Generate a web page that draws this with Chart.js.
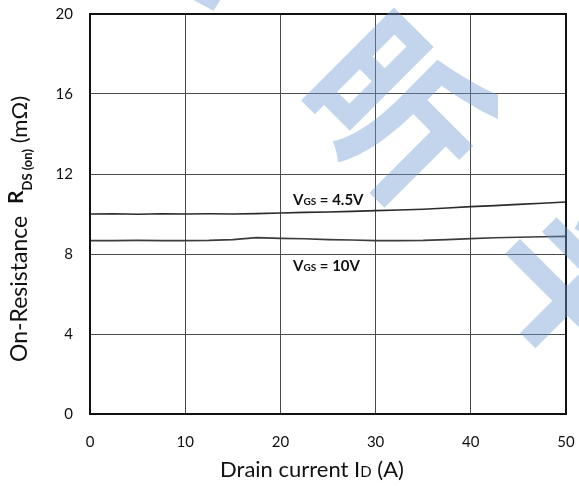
<!DOCTYPE html>
<html>
<head>
<meta charset="utf-8">
<script src="https://cdn.jsdelivr.net/npm/chart.js@4.4.1/dist/chart.umd.min.js"></script>
<style>
html, body { margin: 0; padding: 0; background: #fff; }
</style>
</head>
<body>
<canvas id="rdsChart" width="579" height="486"></canvas>
<script>
// Drain current (A)
const current = [0, 2.5, 5, 7.5, 10, 12.5, 15, 17.5, 20, 22.5, 25, 27.5, 30, 32.5, 35, 37.5, 40, 42.5, 45, 47.5, 50];
// RDS(on) in mOhm
const rdsVgs45 = [10.00, 10.01, 9.99, 10.01, 10.00, 10.01, 10.00, 10.02, 10.05, 10.08, 10.10, 10.13, 10.17, 10.20, 10.24, 10.30, 10.37, 10.42, 10.48, 10.54, 10.60];
const rdsVgs10 = [8.67, 8.67, 8.68, 8.67, 8.67, 8.68, 8.72, 8.82, 8.78, 8.76, 8.72, 8.70, 8.67, 8.67, 8.68, 8.72, 8.77, 8.81, 8.84, 8.86, 8.88];
const xTicks = [0, 10, 20, 30, 40, 50];
const yTicks = [0, 4, 8, 12, 16, 20];

const FONT = "Lato, 'Open Sans', sans-serif";

// text with sub/small parts: [text, size, bold, dy]
function richText(ctx, parts, x, y, align) {
    let w = 0;
    parts.forEach(p => {
        ctx.font = (p[2] ? "bold " : "") + p[1] + "px " + FONT;
        w += ctx.measureText(p[0]).width;
    });
    let cx = align === "center" ? x - w / 2 : x;
    ctx.textAlign = "left";
    ctx.textBaseline = "alphabetic";
    parts.forEach(p => {
        ctx.font = (p[2] ? "bold " : "") + p[1] + "px " + FONT;
        ctx.fillText(p[0], cx, y + (p[3] || 0));
        cx += ctx.measureText(p[0]).width;
    });
}

// watermark on top, semi transparent
const watermark = {
    id: "watermark",
    afterDraw(chart) {
        const ctx = chart.ctx;
        ctx.save();
        ctx.fillStyle = "rgba(110,155,210,0.42)";
        ctx.font = "bold 172px 'Noto Sans CJK SC'";
        ctx.textAlign = "center";
        ctx.textBaseline = "middle";
        [["芯", 195, -84], ["昕", 398, 108], ["半", 585, 284]].forEach(c => {
            ctx.save();
            ctx.translate(c[1], c[2]);
            ctx.rotate(Math.PI / 4);
            ctx.fillText(c[0], 0, 0);
            ctx.restore();
        });
        ctx.restore();
    }
};

const labels = {
    id: "labels",
    afterDatasetsDraw(chart) {
        const ctx = chart.ctx;
        const a = chart.chartArea;
        ctx.save();
        ctx.strokeStyle = "#111";
        ctx.lineWidth = 2;
        ctx.strokeRect(a.left, a.top, a.right - a.left, a.bottom - a.top);
        ctx.fillStyle = "#111";
        richText(ctx, [["V", 15, true], ["GS", 10, true], [" = 4.5V", 15, true]], 293, 205, "left");
        richText(ctx, [["V", 15, true], ["GS", 10, true], [" = 10V", 15, true]], 293, 271, "left");
        // x title
        richText(ctx, [["Drain current I", 22, false], ["D", 15, false], [" (A)", 22, false]], 312, 477, "center");
        // y title
        ctx.translate(27, 362);
        ctx.rotate(-Math.PI / 2);
        richText(ctx, [["On-Resistance  ", 23, false], ["R", 21, true, -4], ["DS (on)", 13, true, 5], [" (mΩ)", 22, false]], 0, 0, "left");
        ctx.restore();
    }
};

new Chart(document.getElementById("rdsChart"), {
    type: "line",
    data: {
        datasets: [{
            label: "VGS = 4.5V",
            data: current.map((c, i) => ({ x: c, y: rdsVgs45[i] })),
            borderColor: "#2b2b2b",
            borderWidth: 1.6,
            pointRadius: 0
        }, {
            label: "VGS = 10V",
            data: current.map((c, i) => ({ x: c, y: rdsVgs10[i] })),
            borderColor: "#3c3c3c",
            borderWidth: 1.6,
            pointRadius: 0
        }]
    },
    options: {
        responsive: false,
        animation: false,
        devicePixelRatio: 1,
        layout: { padding: { top: 14, right: 13, left: 0, bottom: 0 } },
        plugins: { legend: { display: false }, tooltip: { enabled: false } },
        scales: {
            x: {
                type: "linear",
                min: 0,
                max: 50,
                afterBuildTicks: s => { s.ticks = xTicks.map(v => ({ value: v })); },
                afterFit: s => { s.height = 72; s.paddingLeft = 0; s.paddingRight = 0; },
                ticks: { color: "#111", font: { family: FONT, size: 15 }, padding: 19, maxRotation: 0 },
                grid: { color: "#4a4a4a", drawTicks: false },
                border: { color: "#111", width: 2 }
            },
            y: {
                min: 0,
                max: 20,
                afterBuildTicks: s => { s.ticks = yTicks.map(v => ({ value: v })); },
                afterFit: s => { s.width = 90; s.paddingTop = 0; s.paddingBottom = 0; },
                ticks: { color: "#111", font: { family: FONT, size: 15 }, padding: 17 },
                grid: { color: "#4a4a4a", drawTicks: false },
                border: { color: "#111", width: 2 }
            }
        }
    },
    plugins: [watermark, labels]
});
</script>
</body>
</html>
